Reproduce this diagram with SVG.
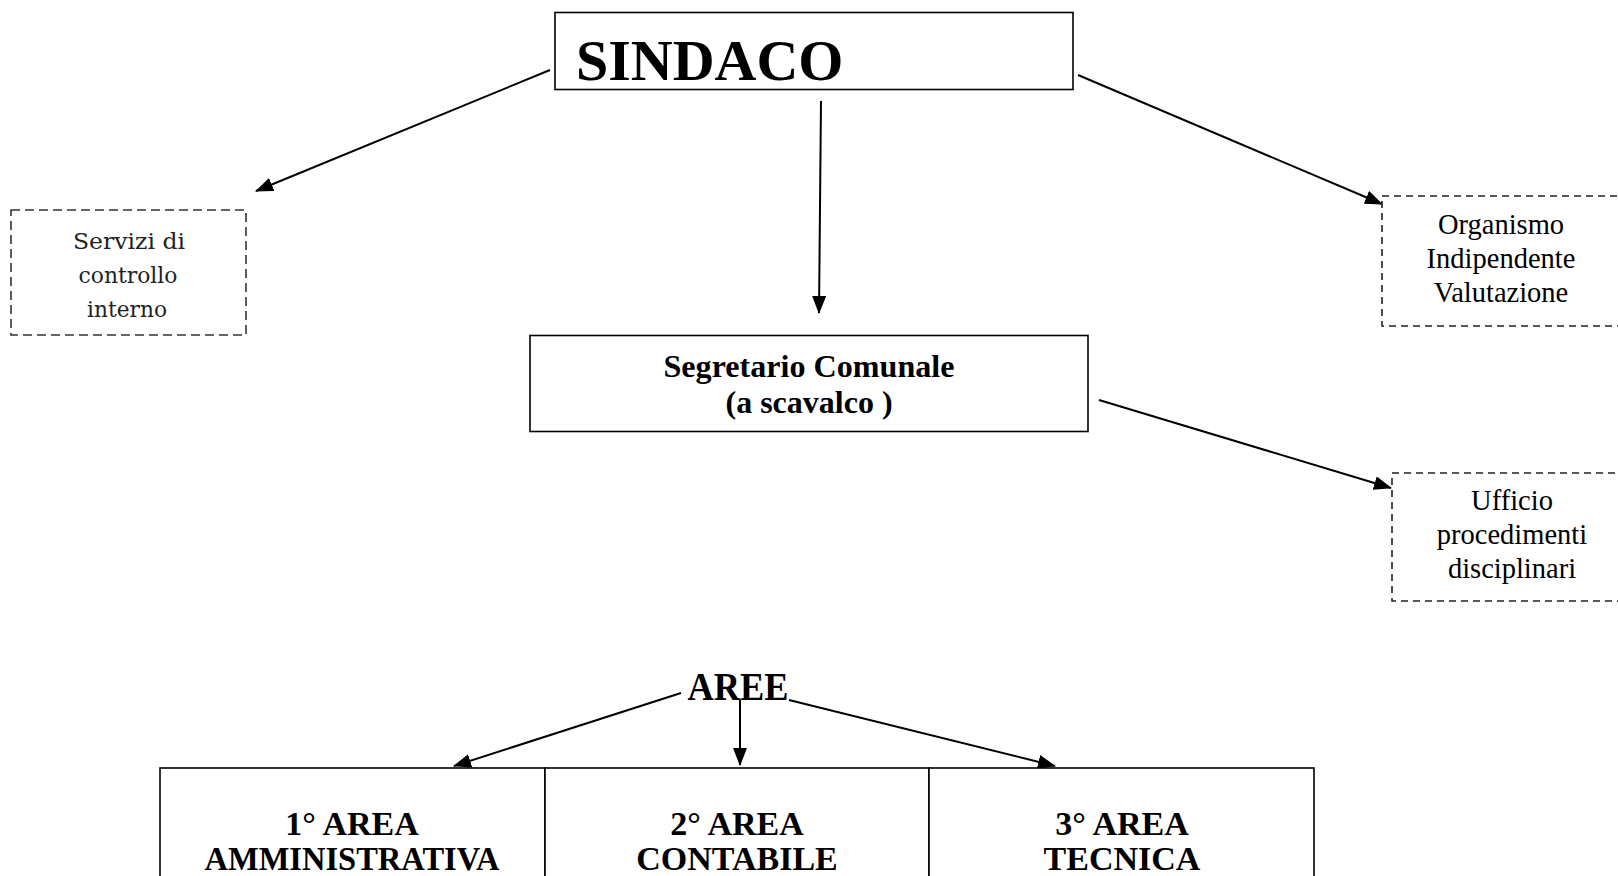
<svg xmlns="http://www.w3.org/2000/svg" width="1618" height="876" viewBox="0 0 1618 876">
<style>
.box{fill:#fff;stroke:#000;stroke-width:1.6}
.dash{fill:#fff;stroke:#222;stroke-width:1.6;stroke-dasharray:7 5}
.dash2{fill:#fff;stroke:#333;stroke-width:1.6;stroke-dasharray:9 5}
.conn{stroke:#000;stroke-width:2;fill:none;marker-end:url(#arr)}
.b{font-family:"Liberation Serif","Times New Roman",serif;font-weight:bold;fill:#000;text-anchor:middle}
.r{font-family:"Liberation Serif","Times New Roman",serif;fill:#000;text-anchor:middle;font-size:28.5px}
.s{font-family:"DejaVu Serif",serif;fill:#222;text-anchor:middle;font-size:23px}
</style>
<defs>
<marker id="arr" markerWidth="18" markerHeight="14" refX="17" refY="7" orient="auto" markerUnits="userSpaceOnUse">
<path d="M0,0 L18,7 L0,14 Z" fill="#000"/>
</marker>
</defs>
<rect width="1618" height="876" fill="#fff"/>
<g id="connectors">
<line class="conn" x1="550" y1="70" x2="256" y2="191"/>
<line class="conn" x1="821" y1="101" x2="819" y2="313"/>
<line class="conn" x1="1078" y1="75" x2="1382" y2="204"/>
<line class="conn" x1="1099" y1="400" x2="1391" y2="488"/>
<line class="conn" x1="681" y1="693" x2="454" y2="766"/>
<line class="conn" x1="740" y1="700" x2="740" y2="765"/>
<line class="conn" x1="789" y1="700" x2="1055" y2="766"/>
</g>
<g id="sindaco">
<rect class="box" x="555" y="12.5" width="518" height="77"/>
<text class="b" x="576" y="80" font-size="58" style="text-anchor:start">SINDACO</text>
</g>
<g id="servizi">
<rect class="dash2" x="11" y="210" width="235" height="125"/>
<text class="s" x="129" y="249" textLength="112" lengthAdjust="spacingAndGlyphs">Servizi di</text>
<text class="s" x="128" y="283" textLength="99" lengthAdjust="spacingAndGlyphs">controllo</text>
<text class="s" x="127" y="317" textLength="80" lengthAdjust="spacingAndGlyphs">interno</text>
</g>
<g id="organismo">
<rect class="dash" x="1382" y="196" width="260" height="130"/>
<text class="r" x="1501" y="234">Organismo</text>
<text class="r" x="1501" y="268">Indipendente</text>
<text class="r" x="1501" y="302">Valutazione</text>
</g>
<g id="segretario">
<rect class="box" x="530" y="335.5" width="558" height="96"/>
<text class="b" x="809" y="377" font-size="32" textLength="291" lengthAdjust="spacingAndGlyphs">Segretario Comunale</text>
<text class="b" x="809" y="413" font-size="32">(a scavalco )</text>
</g>
<g id="ufficio">
<rect class="dash" x="1392" y="473" width="250" height="128"/>
<text class="r" x="1512" y="510">Ufficio</text>
<text class="r" x="1512" y="544">procedimenti</text>
<text class="r" x="1512" y="578">disciplinari</text>
</g>
<g id="aree">
<text class="b" x="738" y="700" font-size="39" textLength="101" lengthAdjust="spacingAndGlyphs">AREE</text>
</g>
<g id="area1">
<rect class="box" x="160" y="768" width="385" height="130"/>
<text class="b" x="352" y="835" font-size="34">1° AREA</text>
<text class="b" x="352" y="870" font-size="34" textLength="295" lengthAdjust="spacingAndGlyphs">AMMINISTRATIVA</text>
</g>
<g id="area2">
<rect class="box" x="545" y="768" width="384" height="130"/>
<text class="b" x="737" y="835" font-size="34">2° AREA</text>
<text class="b" x="737" y="870" font-size="34">CONTABILE</text>
</g>
<g id="area3">
<rect class="box" x="929" y="768" width="385" height="130"/>
<text class="b" x="1122" y="835" font-size="34">3° AREA</text>
<text class="b" x="1122" y="870" font-size="34">TECNICA</text>
</g>
</svg>
